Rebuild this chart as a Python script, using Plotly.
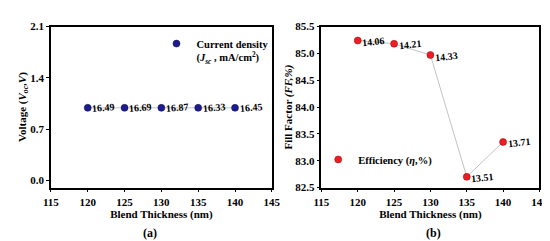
import plotly.graph_objects as go

# blend thickness (nm)
thickness = [120, 125, 130, 135, 140]

# panel (a): open-circuit voltage, labelled with Jsc
voc = [0.99, 0.99, 0.99, 0.99, 0.99]
jsc = ["16.49", "16.69", "16.87", "16.33", "16.45"]

# panel (b): fill factor, labelled with efficiency
ff = [85.24, 85.18, 84.97, 82.70, 83.35]
eff = ["14.06", "14.21", "14.33", "13.51", "13.71"]

FONT = "Liberation Serif, Times New Roman, serif"
BLUE = "#1c1c8f"
RED = "#ee1c24"
GREY = "#c4c4c4"


def bold(size):
    return dict(size=size, family=FONT, color="black", weight=700)


fig = go.Figure()

# connecting lines (no legend)
fig.add_trace(go.Scatter(x=thickness, y=voc, mode="lines", xaxis="x", yaxis="y",
                         line=dict(color=GREY, width=1), showlegend=False,
                         hoverinfo="skip"))
fig.add_trace(go.Scatter(x=thickness, y=ff, mode="lines", xaxis="x2", yaxis="y2",
                         line=dict(color=GREY, width=1), showlegend=False,
                         hoverinfo="skip"))
# points
fig.add_trace(go.Scatter(
    x=thickness, y=voc, mode="markers", xaxis="x", yaxis="y",
    marker=dict(size=7, color=BLUE, line=dict(width=0.5, color="#0b0b50")),
    name="Current density<br>(<i>J</i><sub><i>sc</i></sub> , mA/cm<sup>2</sup>)",
    legend="legend"))
fig.add_trace(go.Scatter(
    x=thickness, y=ff, mode="markers", xaxis="x2", yaxis="y2",
    marker=dict(size=7, color=RED, line=dict(width=0.5, color="#a00000")),
    name="Efficiency (<i>η</i>,%)", legend="legend2"))

ann = []
for x, y, t in zip(thickness, voc, jsc):
    ann.append(dict(x=x, y=y, xref="x", yref="y", text=t, showarrow=False,
                    xanchor="left", xshift=2, textangle=-5, font=bold(10)))
for x, y, t in zip(thickness, ff, eff):
    ann.append(dict(x=x, y=y, xref="x2", yref="y2", text=t, showarrow=False,
                    xanchor="left", xshift=2, yshift=-1, textangle=-6, font=bold(10)))
ann.append(dict(x=138 / 550, y=1 - 230 / 241, xref="paper", yref="paper", text="(a)",
                xanchor="center", yanchor="middle", showarrow=False, font=bold(12)))
ann.append(dict(x=431 / 550, y=1 - 230 / 241, xref="paper", yref="paper", text="(b)",
                xanchor="center", yanchor="middle", showarrow=False, font=bold(12)))

axis_common = dict(showline=True, linecolor="black", linewidth=1.5, mirror=True,
                   ticks="outside", ticklen=3, tickwidth=1, tickcolor="black",
                   showgrid=False, zeroline=False, tickfont=bold(11))
xminor = dict(ticks="outside", ticklen=2, tickcolor="black", nticks=2, showgrid=False)
xtitle = dict(text="Blend Thickness (nm)", standoff=0, font=bold(11))
ydom = [0.242, 0.945]

fig.update_layout(
    width=550, height=241, margin=dict(l=0, r=0, t=0, b=0),
    plot_bgcolor="white", paper_bgcolor="white",
    xaxis=dict(domain=[0.0655, 0.48], range=[115, 145], dtick=5, minor=xminor,
               anchor="y", title=xtitle, **axis_common),
    yaxis=dict(domain=ydom, range=[-0.1, 2.1],
               tickvals=[0.0, 0.7, 1.4, 2.1], ticktext=["0.0", "0.7", "1.4", "2.1"],
               anchor="x",
               title=dict(text="Voltage (<i>V</i><sub><i>oc</i></sub>,<i>V</i>)",
                          standoff=0, font=bold(11)),
               **axis_common),
    xaxis2=dict(domain=[0.573, 0.982], range=[115, 145], dtick=5, minor=xminor,
                anchor="y2", title=xtitle, **axis_common),
    yaxis2=dict(domain=ydom, range=[82.5, 85.5], dtick=0.5, tickformat=".1f",
                anchor="x2",
                title=dict(text="Fill Factor <i>(FF,%)</i>", standoff=0, font=bold(11)),
                **axis_common),
    legend=dict(x=0.2636, y=0.929, xanchor="left", yanchor="top", valign="top",
                bgcolor="rgba(0,0,0,0)", font=bold(10.5), tracegroupgap=0),
    legend2=dict(x=0.567, y=0.365, xanchor="left", yanchor="middle",
                 bgcolor="rgba(0,0,0,0)", font=bold(10.5)),
    annotations=ann, showlegend=True)

fig.write_html("out.html")
